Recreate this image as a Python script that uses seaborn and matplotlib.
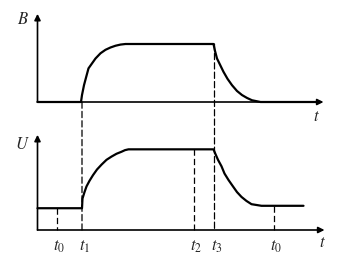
import matplotlib
matplotlib.use("Agg")
import matplotlib.pyplot as plt
from matplotlib.patches import ConnectionPatch
import seaborn as sns
import pandas as pd

# ---- data ----
B_t = [0, 4.35, 4.45, 4.65, 4.85, 5.1, 5.8, 6.3, 6.8, 7.3, 7.8, 8.3, 8.8,
       17.6, 17.75, 17.95, 18.6, 19.0, 19.45, 19.95, 20.45, 20.95, 21.45, 22.3, 28.3]
B_v = [0, 0, 0.12, 0.29, 0.42, 0.58, 0.75, 0.84, 0.90, 0.94, 0.97, 0.99, 1.0,
       1.0, 0.88, 0.75, 0.52, 0.40, 0.29, 0.19, 0.12, 0.07, 0.03, 0, 0]

U_t = [0, 4.45, 4.5, 4.7, 4.9, 5.2, 5.55, 5.95, 6.4, 6.9, 7.4, 7.9, 8.4, 8.75, 9.1,
       17.6, 17.8, 18.05, 18.4, 18.7, 19.1, 19.55, 19.95, 20.4, 20.9, 21.4, 21.9, 22.4, 26.6]
U_v = [0.27, 0.27, 0.39, 0.47, 0.54, 0.61, 0.68, 0.75, 0.81, 0.87, 0.91, 0.945, 0.97, 0.99, 1.0,
       1.0, 0.94, 0.87, 0.79, 0.70, 0.62, 0.54, 0.47, 0.41, 0.36, 0.32, 0.31, 0.30, 0.30]

tick_times = [1.9, 4.45, 15.6, 17.7, 23.6]
tick_labels = ["$t_0$", "$t_1$", "$t_2$", "$t_3$", "$t_0$"]
tick_U = [0.27, None, 1.0, None, 0.30]   # start of drop lines inside lower panel

sns.set_style("white")
plt.rcParams["mathtext.fontset"] = "stix"
plt.rcParams["font.family"] = ["Liberation Serif", "DejaVu Serif"]

fig = plt.figure(figsize=(3.42, 2.66), dpi=100)
W, H = 342, 266
x0 = 37.5
ax1 = fig.add_axes([x0 / W, (H - 102) / H, 290 / W, 89.9 / H])
ax2 = fig.add_axes([x0 / W, (H - 230) / H, 290 / W, 96.8 / H])
ax1.set_xlim(0, 29); ax1.set_ylim(0, 1.55)
ax2.set_xlim(0, 29); ax2.set_ylim(0, 1.2)

for ax in (ax1, ax2):
    ax.axis("off")

dfB = pd.DataFrame({"t": B_t, "v": B_v})
dfU = pd.DataFrame({"t": U_t, "v": U_v})
sns.lineplot(data=dfB, x="t", y="v", ax=ax1, color="black", lw=1.6,
             sort=False, estimator=None, clip_on=False)
sns.lineplot(data=dfU, x="t", y="v", ax=ax2, color="black", lw=1.6,
             sort=False, estimator=None, clip_on=False)

arrow = dict(arrowstyle="-|>", lw=1.2, color="black", mutation_scale=9,
             shrinkA=0, shrinkB=0)
ax1.annotate("", xy=(28.6, 0), xytext=(0, 0), arrowprops=arrow, annotation_clip=False)
ax1.annotate("", xy=(0, 1.52), xytext=(0, 0), arrowprops=arrow, annotation_clip=False)
ax2.annotate("", xy=(28.7, 0), xytext=(0, 0), arrowprops=arrow, annotation_clip=False)
ax2.annotate("", xy=(0, 1.18), xytext=(0, 0), arrowprops=arrow, annotation_clip=False)

dash = dict(color="black", lw=0.9, linestyle=(0, (5, 2.5)))
# lines crossing both panels (t1 and t3)
for t, yb in [(tick_times[1], 0.0), (tick_times[3], 1.0)]:
    con = ConnectionPatch(xyA=(t, yb), coordsA=ax1.transData,
                          xyB=(t, 0), coordsB=ax2.transData, **dash)
    fig.add_artist(con)
# lines inside the lower panel
for t, u in zip(tick_times, tick_U):
    if u is not None:
        ax2.plot([t, t], [u, 0], clip_on=False, **dash)

for t, lab in zip(tick_times, tick_labels):
    ax2.text(t + 0.25, -0.21, lab, ha="center", va="center", fontsize=12)

ax1.text(-1.5, 1.41, "$B$", ha="center", va="center", fontsize=12)
ax2.text(-1.5, 1.05, "$U$", ha="center", va="center", fontsize=12)
ax1.text(27.9, -0.26, "$t$", ha="center", va="center", fontsize=12)
ax2.text(28.5, -0.16, "$t$", ha="center", va="center", fontsize=12)

fig.savefig("out.png", dpi=100)
